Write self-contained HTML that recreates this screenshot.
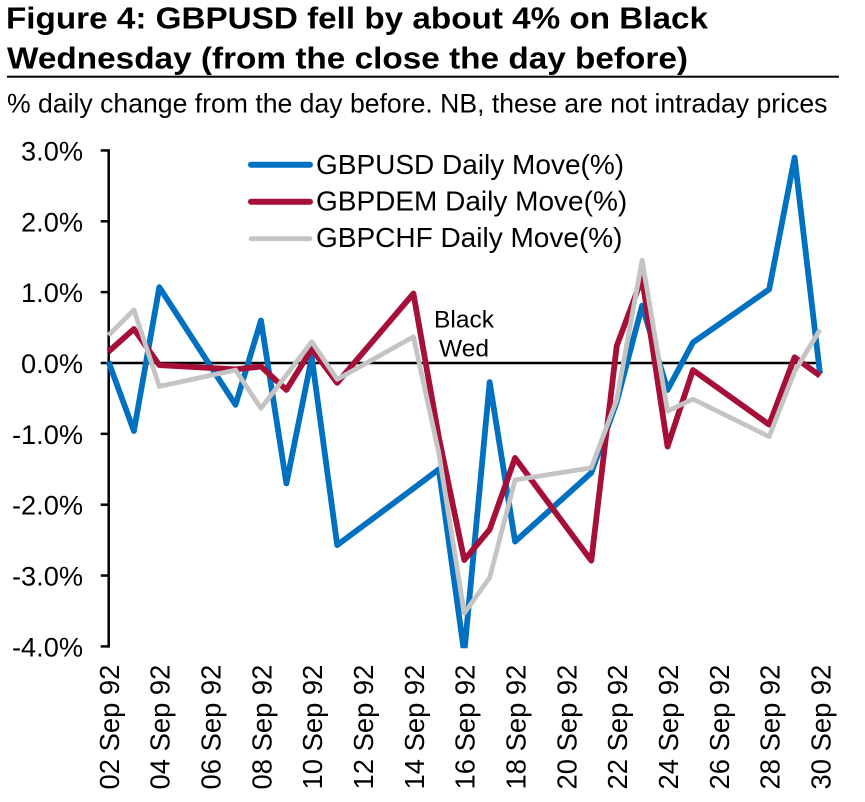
<!DOCTYPE html>
<html lang="en">
<head>
<meta charset="utf-8">
<title>Figure 4: GBPUSD fell by about 4% on Black Wednesday</title>
<style>
html,body{margin:0;padding:0;background:#fff;}
body{width:865px;height:802px;overflow:hidden;}
svg{display:block;font-family:"Liberation Sans",Arial,sans-serif;fill:#000;}
</style>
</head>
<body>
<svg id="chart" width="865" height="802" viewBox="0 0 865 802" xmlns="http://www.w3.org/2000/svg">
  <defs>
    <clipPath id="plot-clip"><rect x="90" y="140" width="760" height="508.3"></rect></clipPath>
  </defs>
  <text x="6" y="28.5" font-size="31" font-weight="700" textLength="702" lengthAdjust="spacingAndGlyphs">Figure 4: GBPUSD fell by about 4% on Black</text>
  <text x="7" y="68.3" font-size="31" font-weight="700" textLength="681" lengthAdjust="spacingAndGlyphs">Wednesday (from the close the day before)</text>
  <rect x="7" y="75.7" width="832" height="2" fill="#000"></rect>
  <text x="7" y="112.7" font-size="26.6">% daily change from the day before. NB, these are not intraday prices</text>
  <g id="axes"></g>
  <g id="series" clip-path="url(#plot-clip)"></g>
  <g>
    <g>
      <line x1="251" x2="310" y1="164.7" y2="164.7" stroke="#0070c0" stroke-width="6" stroke-linecap="round"></line>
      <text x="316" y="174" font-size="28">GBPUSD Daily Move(%)</text>
    </g>
    <g>
      <line x1="251" x2="310" y1="201.7" y2="201.7" stroke="#a50f38" stroke-width="6" stroke-linecap="round"></line>
      <text x="316" y="210.5" font-size="28">GBPDEM Daily Move(%)</text>
    </g>
    <g>
      <line x1="251" x2="310" y1="238.7" y2="238.7" stroke="#c4c4c4" stroke-width="4.8" stroke-linecap="round"></line>
      <text x="316" y="247" font-size="28">GBPCHF Daily Move(%)</text>
    </g>
  </g>
  <text x="464" y="327.7" font-size="24.5" text-anchor="middle">Black</text>
  <text x="464" y="356.7" font-size="24.5" text-anchor="middle">Wed</text>
</svg>
<script>
const days = [2, 3, 4, 7, 8, 9, 10, 11, 14, 15, 16, 17, 18, 21, 22, 23, 24, 25, 28, 29, 30];
const gbpusd = [0.02, -0.96, 1.07, -0.59, 0.6, -1.7, 0.08, -2.57, -1.77, -1.5, -4.1, -0.27, -2.52, -1.55, -0.55, 0.81, -0.38, 0.29, 1.04, 2.9, -0.15];
const gbpdem = [0.16, 0.48, -0.03, -0.09, -0.05, -0.38, 0.2, -0.28, 0.98, -1.05, -2.78, -2.35, -1.34, -2.79, 0.24, 1.2, -1.18, -0.1, -0.87, 0.08, -0.18];
const gbpchf = [0.39, 0.75, -0.33, -0.1, -0.64, -0.17, 0.3, -0.23, 0.37, -1.27, -3.53, -3.03, -1.65, -1.48, -0.52, 1.45, -0.68, -0.51, -1.04, -0.12, 0.47];
const yTicks = [3, 2, 1, 0, -1, -2, -3, -4];
const yTickLabels = ["3.0%", "2.0%", "1.0%", "0.0%", "-1.0%", "-2.0%", "-3.0%", "-4.0%"];
const xTickDays = [2, 4, 6, 8, 10, 12, 14, 16, 18, 20, 22, 24, 26, 28, 30];
const xTickLabels = ["02 Sep 92", "04 Sep 92", "06 Sep 92", "08 Sep 92", "10 Sep 92", "12 Sep 92", "14 Sep 92", "16 Sep 92", "18 Sep 92", "20 Sep 92", "22 Sep 92", "24 Sep 92", "26 Sep 92", "28 Sep 92", "30 Sep 92"];

const NS = "http://www.w3.org/2000/svg";
function xScale(day) { return 108.5 + (day - 2) * (820 - 108.5) / 28; }
function yScale(v) { return 363 - v * 70.85; }

const axes = document.getElementById("axes");
const seriesGroup = document.getElementById("series");

const yAxisLine = document.createElementNS(NS, "line");


yAxisLine.setAttribute("x1", 108.7);
yAxisLine.setAttribute("x2", 108.7);
yAxisLine.setAttribute("y1", yScale(yTicks[0]) - 1.2);
yAxisLine.setAttribute("y2", yScale(yTicks[yTicks.length - 1]) + 1.2);
yAxisLine.setAttribute("stroke", "#000");
yAxisLine.setAttribute("stroke-width", 2.5);
axes.appendChild(yAxisLine);

yTicks.forEach(function (t, i) {
  const tick = document.createElementNS(NS, "line");
  
  
  tick.setAttribute("x1", 100.7);
  tick.setAttribute("x2", 108.7);
  tick.setAttribute("y1", yScale(t));
  tick.setAttribute("y2", yScale(t));
  tick.setAttribute("stroke", "#000");
  tick.setAttribute("stroke-width", 2.5);
  axes.appendChild(tick);

  const label = document.createElementNS(NS, "text");
  
  
  label.setAttribute("x", 83);
  label.setAttribute("y", yScale(t) + 10);
  label.setAttribute("font-size", 27.2);
  label.setAttribute("text-anchor", "end");
  label.textContent = yTickLabels[i];
  axes.appendChild(label);
});

const zeroLine = document.createElementNS(NS, "line");


zeroLine.setAttribute("x1", 108.5);
zeroLine.setAttribute("x2", 820);
zeroLine.setAttribute("y1", yScale(0));
zeroLine.setAttribute("y2", yScale(0));
zeroLine.setAttribute("stroke", "#000");
zeroLine.setAttribute("stroke-width", 2.5);
axes.appendChild(zeroLine);

xTickDays.forEach(function (d, i) {
  const label = document.createElementNS(NS, "text");
  
  
  const lx = xScale(d) + 10.4;
  label.setAttribute("transform", "translate(" + lx + ",789.5) rotate(-90)");
  label.setAttribute("font-size", 27.4);
  label.textContent = xTickLabels[i];
  axes.appendChild(label);
});

function linePath(values) {
  return values.map(function (v, i) {
    return (i === 0 ? "M" : "L") + xScale(days[i]).toFixed(2) + " " + yScale(v).toFixed(2);
  }).join(" ");
}

const usdLine = document.createElementNS(NS, "path");


usdLine.setAttribute("d", linePath(gbpusd));
usdLine.setAttribute("fill", "none");
usdLine.setAttribute("stroke", "#0070c0");
usdLine.setAttribute("stroke-width", 5.8);
usdLine.setAttribute("stroke-linejoin", "round");
seriesGroup.appendChild(usdLine);

const demLine = document.createElementNS(NS, "path");


demLine.setAttribute("d", linePath(gbpdem));
demLine.setAttribute("fill", "none");
demLine.setAttribute("stroke", "#a50f38");
demLine.setAttribute("stroke-width", 5.8);
demLine.setAttribute("stroke-linejoin", "round");
seriesGroup.appendChild(demLine);

const chfLine = document.createElementNS(NS, "path");


chfLine.setAttribute("d", linePath(gbpchf));
chfLine.setAttribute("fill", "none");
chfLine.setAttribute("stroke", "#c4c4c4");
chfLine.setAttribute("stroke-width", 4.8);
chfLine.setAttribute("stroke-linejoin", "round");
seriesGroup.appendChild(chfLine);
</script>
</body>
</html>
